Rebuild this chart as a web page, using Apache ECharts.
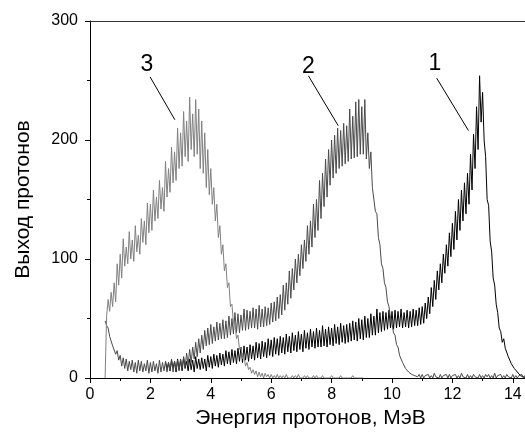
<!DOCTYPE html>
<html>
<head>
<meta charset="utf-8">
<script src="https://cdn.jsdelivr.net/npm/echarts@6/dist/echarts.min.js"></script>
<style>
  html, body { margin: 0; padding: 0; background: #fff; }
  #main { width: 525px; height: 437px; }
</style>
</head>
<body>
<div id="main"></div>
<script>
// Each spectrum is read as a noise band: "hi" values sit on a 0.1 MeV grid,
// "lo" values half a step later, so the trace zig-zags between them.
var step = 0.1;

// curve 3 (light grey), from 0.5 MeV
var start3 = 0.5;
var hi3 = [0, 66, 72, 80, 96,
  104, 117, 110, 123, 116, 128, 120, 134, 132, 147,
  146, 158, 152, 166, 160, 182, 176, 194, 190, 210,
  206, 224, 216, 236, 222, 234, 226, 216, 206, 192,
  176, 160, 146, 128, 112, 96, 80, 62, 48, 36,
  26, 18, 13, 9, 7, 6, 5, 4, 4, 3,
  3, 2, 3, 2, 2, 3, 1, 2, 2, 3,
  1, 2, 2, 1, 2, 2, 1, 2, 1, 1,
  2, 1, 1, 2, 1, 1, 1, 2, 1, 1,
  1];
var lo3 = [52, 56, 60, 64, 78,
  84, 94, 96, 100, 98, 106, 104, 114, 112, 122,
  124, 132, 134, 142, 140, 152, 156, 164, 166, 176,
  178, 186, 182, 192, 186, 188, 176, 172, 160, 154,
  146, 132, 118, 104, 90, 76, 60, 46, 33, 24,
  16, 10, 7, 4, 3, 1, 1, 0, 1, 0,
  0, 0, 0, 0, 0, 0, 0, 0, 0, 0,
  0, 0, 0, 0, 0, 0, 0, 0, 0, 0,
  0, 0, 0, 0, 0, 0, 0, 0, 0, 0,
  0];

// curve 2 (dark grey), from 0.5 MeV
var start2 = 0.5;
var hi2 = [48, 42, 34, 27, 23,
  19, 17, 16, 14, 15, 13, 15, 14, 12, 15,
  13, 14, 12, 15, 13, 14, 13, 16, 14, 15,
  16, 18, 21, 24, 26, 30, 33, 36, 40, 42,
  45, 43, 47, 46, 49, 48, 52, 50, 55, 54,
  53, 58, 57, 56, 59, 58, 61, 58, 60, 59,
  63, 64, 68, 70, 78, 80, 90, 92, 100, 104,
  112, 116, 128, 132, 146, 150, 166, 172, 184, 192,
  200, 204, 210, 208, 214, 212, 226, 220, 232, 234,
  228, 234, 206, 190, 160, 138, 112, 92, 76, 60,
  46, 36, 26, 19, 13, 9, 6, 4, 3, 3,
  3, 2, 3, 2, 4, 2, 3, 2, 3, 3,
  2, 3, 2, 4, 2, 3, 2, 3, 2, 3,
  2, 3, 3, 2, 4, 2, 3, 2, 3, 2,
  3, 2, 2, 3, 2];
var lo2 = [44, 35, 27, 20, 15,
  10, 8, 6, 7, 5, 4, 6, 5, 6, 4,
  5, 6, 4, 5, 6, 5, 6, 5, 7, 6,
  8, 9, 11, 13, 16, 18, 21, 24, 27, 28,
  29, 31, 32, 33, 33, 34, 36, 37, 38, 38,
  40, 40, 41, 42, 42, 41, 43, 43, 44, 45,
  47, 48, 50, 53, 57, 62, 67, 74, 80, 86,
  92, 98, 104, 110, 118, 124, 134, 144, 152, 162,
  168, 172, 176, 178, 180, 182, 184, 185, 186, 188,
  188, 184, 176, 160, 140, 118, 96, 80, 64, 50,
  38, 28, 19, 13, 8, 5, 3, 2, 1, 0,
  0, 1, 0, 0, 1, 0, 0, 1, 0, 0,
  1, 0, 0, 1, 0, 0, 0, 1, 0, 0,
  0, 1, 0, 0, 0, 1, 0, 0, 1, 0,
  0, 0, 1, 0, 0];

// curve 1 (black), from 2.5 MeV
var start1 = 2.5;
var hi1 = [14, 13, 15, 14, 16,
  15, 17, 14, 16, 15, 18, 16, 17, 16, 19,
  18, 20, 19, 21, 20, 23, 22, 24, 23, 25,
  26, 27, 26, 28, 27, 30, 29, 31, 30, 33,
  32, 34, 33, 35, 34, 37, 35, 38, 36, 39,
  37, 40, 38, 41, 39, 42, 40, 44, 41, 43,
  42, 45, 43, 46, 44, 45, 46, 48, 47, 50,
  49, 52, 50, 54, 52, 58, 55, 56, 55, 57,
  56, 57, 56, 58, 55, 57, 56, 58, 57, 59,
  60, 63, 68, 76, 82, 90, 96, 104, 112, 122,
  130, 140, 150, 158, 164, 172, 188, 205, 228, 254,
  240, 186, 145, 106, 78, 55, 39, 33, 25, 18,
  13, 8, 5, 3, 1];
var lo1 = [7, 6, 8, 5, 7,
  6, 8, 6, 7, 5, 8, 7, 8, 6, 9,
  8, 10, 9, 11, 10, 12, 11, 13, 12, 14,
  13, 15, 14, 16, 15, 17, 16, 18, 17, 19,
  18, 20, 19, 21, 20, 22, 21, 23, 22, 24,
  22, 25, 24, 26, 25, 26, 26, 27, 26, 28,
  27, 29, 28, 30, 29, 30, 31, 32, 31, 33,
  32, 34, 34, 36, 36, 38, 39, 40, 41, 42,
  41, 42, 43, 42, 43, 42, 43, 44, 44, 45,
  46, 50, 54, 60, 66, 74, 80, 88, 94, 102,
  108, 116, 124, 132, 138, 146, 158, 176, 192, 215,
  200, 150, 115, 84, 62, 42, 30, 25, 18, 12,
  8, 5, 2, 1, 0];

// curve numbers and leader lines (data coords)
var curveNames = ['1', '2', '3'];
var namePos = [[11.42, 264], [7.23, 262], [1.88, 263]];
var leaderFrom = [[11.48, 252], [7.23, 254], [1.99, 253]];
var leaderTo = [[12.53, 208], [8.22, 212], [2.81, 217]];

var xTicks = [0, 2, 4, 6, 8, 10, 12, 14];
var yTicks = [0, 100, 200, 300];

function toPairs(start, hi, lo) {
  var out = [];
  for (var i = 0; i < hi.length; i++) {
    out.push([+(start + i * step).toFixed(3), hi[i]]);
    out.push([+(start + i * step + step / 2).toFixed(3), lo[i]]);
  }
  return out;
}

function notes(k) {
  return {
    markLine: {
      silent: true,
      symbol: 'none',
      label: { show: false },
      lineStyle: { color: '#000', width: 1, type: 'solid' },
      data: [[{ coord: leaderFrom[k] }, { coord: leaderTo[k] }]]
    },
    markPoint: {
      silent: true,
      symbol: 'circle',
      symbolSize: 1,
      itemStyle: { color: 'rgba(0,0,0,0)' },
      label: {
        show: true, position: 'inside', formatter: curveNames[k],
        fontSize: 23, color: '#000', fontFamily: 'Liberation Sans'
      },
      data: [{ coord: namePos[k] }]
    }
  };
}

var dom = document.getElementById('main');
var myChart = echarts.init(dom);

var colors = ['#000000', '#4a4a4a', '#808080'];
var sets = [toPairs(start1, hi1, lo1), toPairs(start2, hi2, lo2), toPairs(start3, hi3, lo3)];

var series = [];
for (var k = 0; k < 3; k++) {
  var s = {
    name: curveNames[k],
    type: 'line',
    data: sets[k],
    showSymbol: false,
    symbol: 'none',
    lineStyle: { color: colors[k], width: 1 },
    z: 2 + k
  };
  var n = notes(k);
  s.markLine = n.markLine;
  s.markPoint = n.markPoint;
  series.push(s);
}

var option = {
  animation: false,
  backgroundColor: '#fff',
  textStyle: { fontFamily: 'Liberation Sans' },
  grid: { left: 90, width: 453, top: 21, bottom: 59, containLabel: false, outerBoundsMode: 'none' },
  xAxis: [{
    type: 'value',
    min: 0,
    max: 15,
    interval: 2,
    name: 'Энергия протонов, МэВ',
    nameLocation: 'middle',
    nameGap: 30,
    nameTextStyle: { fontSize: 21, color: '#000', padding: [0, 12, 0, 0] },
    axisLine: { show: true, onZero: false, lineStyle: { color: '#000', width: 1 } },
    axisTick: { show: true, inside: false, length: 5, lineStyle: { color: '#000' } },
    minorTick: { show: true, splitNumber: 2, length: 3, lineStyle: { color: '#000' } },
    axisLabel: {
      fontSize: 16, color: '#000', margin: 9,
      formatter: function (v) { return xTicks.indexOf(v) >= 0 ? String(v) : ''; }
    },
    splitLine: { show: false }
  }, {
    type: 'value',
    position: 'top',
    min: 0,
    max: 15,
    axisLine: { show: true, onZero: false, lineStyle: { color: '#333', width: 1 } },
    axisTick: { show: false },
    axisLabel: { show: false },
    splitLine: { show: false }
  }],
  yAxis: {
    type: 'value',
    min: 0,
    max: 300,
    interval: 100,
    name: 'Выход протонов',
    nameLocation: 'middle',
    nameGap: 56,
    nameTextStyle: { fontSize: 21, color: '#000' },
    axisLine: { show: true, lineStyle: { color: '#000', width: 1 } },
    axisTick: { show: true, inside: false, length: 5, lineStyle: { color: '#000' } },
    minorTick: { show: true, splitNumber: 2, length: 3, lineStyle: { color: '#000' } },
    axisLabel: {
      fontSize: 16, color: '#000', margin: 12,
      formatter: function (v) { return yTicks.indexOf(v) >= 0 ? String(v) : ''; }
    },
    splitLine: { show: false }
  },
  series: series
};

if (option && typeof option === 'object') {
  myChart.setOption(option, true);
}
window.onresize = myChart.resize;
</script>
</body>
</html>
